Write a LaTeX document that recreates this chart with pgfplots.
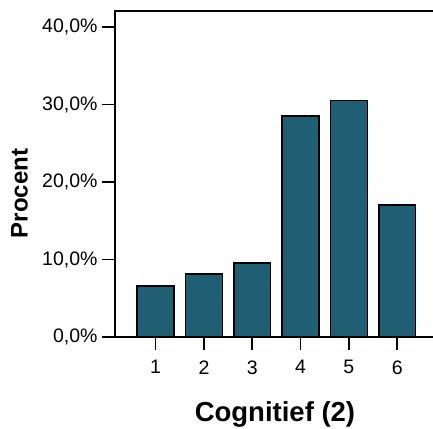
\documentclass[border=0pt]{standalone}
\usepackage{pgfplots}
\pgfplotsset{compat=1.18}
\usepackage{fontspec}
\setmainfont{Liberation Sans}
\definecolor{barfill}{HTML}{1F5E73}
\begin{document}
\begin{tikzpicture}[x=1pt,y=1pt]
\useasboundingbox (-115pt,-91pt) rectangle (318pt,337pt);
\begin{axis}[
  at={(0,0)}, anchor=south west,
  scale only axis, width=318pt, height=326pt,
  xmin=0.16, xmax=6.74, ymin=0, ymax=42.06,
  axis line style={draw=none},
  xtick={1,2,3,4,5,6},
  xticklabels={1,2,3,4,5,6},
  ytick={0,10,20,30,40},
  yticklabels={{0,0\%},{10,0\%},{20,0\%},{30,0\%},{40,0\%}},
  tick align=outside,
  major tick length=13pt,
  tick style={line width=1.8pt, black},
  xtick pos=bottom, ytick pos=left,
  /pgf/number format/assume math mode=true,
  ticklabel style={font=\fontsize{19.5}{21}\selectfont},
  yticklabel style={xshift=-1pt},
  xticklabel style={yshift=-7pt},
  clip=false,
]
\addplot[ybar, bar width=36.7pt, fill=barfill, draw=black, line width=1.5pt] coordinates {
  (1,6.6) (2,8.1) (3,9.55) (4,28.5) (5,30.5) (6,17.0)
};
\draw[line width=1.6pt, line cap=rect] (rel axis cs:1,1) -- (rel axis cs:0,1) -- (rel axis cs:0,0) -- (rel axis cs:1,0);
\node[anchor=base, font=\bfseries\fontsize{27.5}{29}\selectfont] at (rel axis cs:0.503,-0.26) {Cognitief (2)};
\node[rotate=90, font=\bfseries\fontsize{24}{26}\selectfont] at (rel axis cs:-0.3,0.44) {Procent};
\end{axis}
\end{tikzpicture}
\end{document}
